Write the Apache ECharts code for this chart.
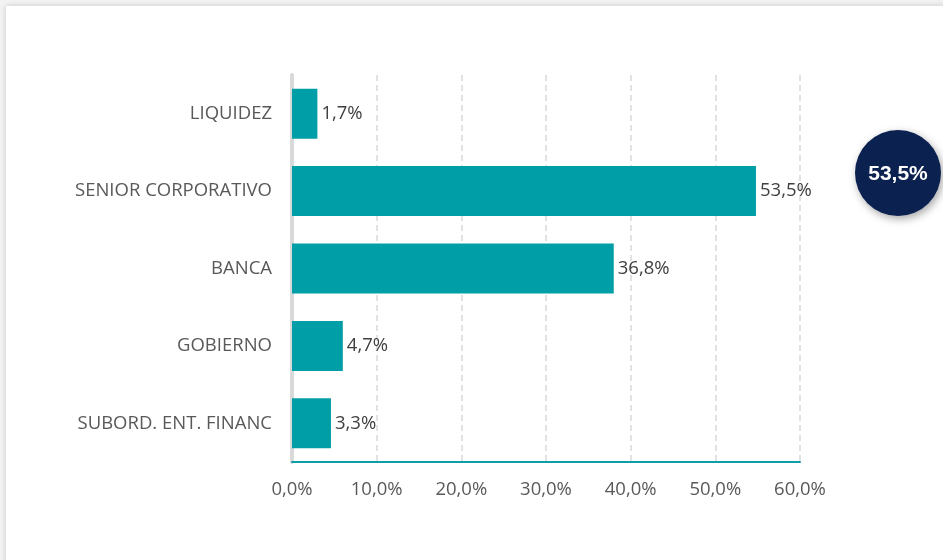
<!DOCTYPE html>
<html><head><meta charset="utf-8">
<script src="https://cdn.jsdelivr.net/npm/echarts@6/dist/echarts.min.js"></script>
<style>
html,body{margin:0;padding:0;background:#f3f3f3;width:943px;height:560px;overflow:hidden}
#card{position:absolute;left:6px;top:6px;width:960px;height:600px;background:#fff;box-shadow:0 0 6px rgba(0,0,0,0.18)}
#chart{position:absolute;left:0;top:0;width:943px;height:560px}
</style></head><body>
<div id="card"></div>
<div id="chart"></div>
<script>
var categories = ['LIQUIDEZ','SENIOR CORPORATIVO','BANCA','GOBIERNO','SUBORD. ENT. FINANC'];
var shareLabels = [1.7, 53.5, 36.8, 4.7, 3.3];
var barLengths = [3.0, 54.8, 38.0, 6.0, 4.6];
var xTicks = [0,10,20,30,40,50,60];
var badgeText = '53,5%';

function pct(v){ return v.toFixed(1).replace('.', ',') + '%'; }

var FONT = '"Open Sans"';
var chart = echarts.init(document.getElementById('chart'), null, {renderer:'canvas'});
chart.setOption({
  animation:false,
  backgroundColor:'transparent',
  grid:{left:292, right:143, top:75, bottom:98, containLabel:false},
  xAxis:{
    type:'value', min:xTicks[0], max:xTicks[xTicks.length-1], interval:10,
    axisLine:{show:true, lineStyle:{color:'#0f9ea6', width:2}},
    axisTick:{show:false},
    axisLabel:{margin:18, color:'#595959', fontSize:18.5, fontFamily:FONT, formatter:function(v){return pct(v);}},
    splitLine:{show:true, lineStyle:{color:'#d9d9d9', type:[6,4], width:1.5}}
  },
  yAxis:{
    type:'category', data:categories, inverse:true,
    axisLine:{show:true, lineStyle:{color:'#d9d9d9', width:4}},
    axisTick:{show:false},
    axisLabel:{margin:20, color:'#595959', fontSize:18.5, fontFamily:FONT}
  },
  series:[{
    type:'bar', data:barLengths, barWidth:50,
    itemStyle:{color:'#009ea6'},
    label:{show:true, position:'right', distance:4, color:'#404040', fontSize:18.5, fontFamily:FONT,
      formatter:function(p){return pct(shareLabels[p.dataIndex]);}}
  }],
  graphic:[{
    type:'group', left:855, top:130,
    children:[
      {type:'circle', shape:{cx:43, cy:43, r:43}, style:{fill:'#0b2150', shadowBlur:8, shadowColor:'rgba(0,0,0,0.35)', shadowOffsetX:2, shadowOffsetY:3}},
      {type:'text', x:43, y:44, style:{text:badgeText, fill:'#ffffff', font:'bold 21px "Liberation Sans", Arial', align:'center', verticalAlign:'middle'}}
    ]
  }]
});
</script>
</body></html>
